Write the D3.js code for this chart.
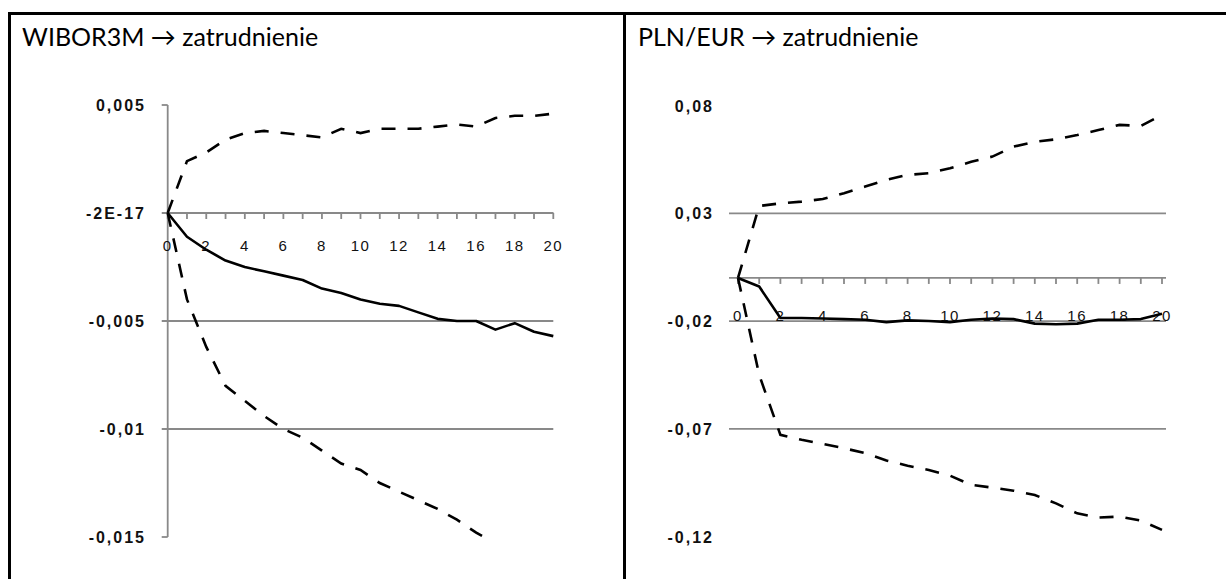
<!DOCTYPE html>
<html>
<head>
<meta charset="utf-8">
<script src="https://cdn.jsdelivr.net/npm/d3@7/dist/d3.min.js"></script>
<style>
  html, body { margin: 0; padding: 0; background: #fff; }
  svg { display: block; }
</style>
</head>
<body>
<svg id="chart" width="1226" height="579"></svg>
<script>
// Impulse responses of employment (zatrudnienie), horizons 0..20
const horizons = [0, 1, 2, 3, 4, 5, 6, 7, 8, 9, 10, 11, 12, 13, 14, 15, 16, 17, 18, 19, 20];

// WIBOR3M shock
const wiborResponse = [0, -0.0011, -0.0017, -0.0022, -0.0025, -0.0027, -0.0029, -0.0031, -0.0035, -0.0037, -0.0040, -0.0042, -0.0043, -0.0046, -0.0049, -0.0050, -0.0050, -0.0054, -0.0051, -0.0055, -0.0057];
const wiborUpper = [0, 0.0024, 0.0028, 0.0034, 0.0037, 0.0038, 0.0037, 0.0036, 0.0035, 0.0039, 0.0037, 0.0039, 0.0039, 0.0039, 0.0040, 0.0041, 0.0040, 0.0044, 0.0045, 0.0045, 0.0046];
const wiborLower = [0, -0.0040, -0.0062, -0.0080, -0.0087, -0.0094, -0.0100, -0.0104, -0.0110, -0.0116, -0.0119, -0.0125, -0.0129, -0.0133, -0.0137, -0.0142, -0.0148, -0.0153, -0.0157, -0.0161, -0.0165];
const wiborTicks = [0.005, 0, -0.005, -0.01, -0.015];
const wiborTickLabels = ["0,005", "-2E-17", "-0,005", "-0,01", "-0,015"];

// PLN/EUR shock
const plnResponse = [0, -0.0040, -0.0186, -0.0186, -0.0188, -0.0191, -0.0194, -0.0205, -0.0197, -0.0200, -0.0205, -0.0194, -0.0188, -0.0191, -0.0212, -0.0215, -0.0212, -0.0194, -0.0194, -0.0191, -0.0166];
const plnUpper = [0, 0.0334, 0.0346, 0.0354, 0.0366, 0.0393, 0.0424, 0.0455, 0.0478, 0.0486, 0.0509, 0.0539, 0.0563, 0.0609, 0.0632, 0.0643, 0.0663, 0.0686, 0.0710, 0.0705, 0.0756];
const plnLower = [0, -0.0450, -0.0728, -0.0751, -0.0770, -0.0790, -0.0813, -0.0847, -0.0871, -0.0891, -0.0917, -0.0960, -0.0973, -0.0987, -0.1007, -0.1046, -0.1092, -0.1112, -0.1107, -0.1126, -0.1169];
const plnTicks = [0.08, 0.03, -0.02, -0.07, -0.12];
const plnTickLabels = ["0,08", "0,03", "-0,02", "-0,07", "-0,12"];

const xTickLabels = ["0", "2", "4", "6", "8", "10", "12", "14", "16", "18", "20"];
const titles = ["WIBOR3M \u2192 zatrudnienie", "PLN/EUR \u2192 zatrudnienie"];

const svg = d3.select("#chart");

// table frame
const frame = svg.append("g").attr("stroke", "#000").attr("stroke-width", 3);
frame.append("line").attr("x1", 8).attr("x2", 1226).attr("y1", 13.5).attr("y2", 13.5);
frame.append("line").attr("x1", 9.5).attr("x2", 9.5).attr("y1", 12).attr("y2", 579);
frame.append("line").attr("x1", 624.5).attr("x2", 624.5).attr("y1", 12).attr("y2", 579);

// cell titles
[[22, titles[0]], [638, titles[1]]].forEach(([x, t]) => {
  svg.append("text")
    .attr("x", x).attr("y", 46)
    .attr("font-family", "Lato, 'Open Sans', sans-serif")
    .attr("font-size", 25)
    .attr("fill", "#000")
    .text(t);
});

const panels = [
  {
    id: "wibor",
    x0: 167.7, x1: 553.3, yTop: 105, yBottom: 537,
    domain: [-0.015, 0.005],
    ticks: wiborTicks, tickLabels: wiborTickLabels,
    gridStart: 162, gridEnd: 553.3,
    showYAxis: true,
    labelRight: 146, xLabelOffset: 34,
    response: wiborResponse, upper: wiborUpper, lower: wiborLower
  },
  {
    id: "pln",
    x0: 738, x1: 1162, yTop: 105.5, yBottom: 536.6,
    domain: [-0.12, 0.08],
    ticks: plnTicks, tickLabels: plnTickLabels,
    gridStart: 729, gridEnd: 1166,
    showYAxis: false,
    labelRight: 714, xLabelOffset: 39,
    response: plnResponse, upper: plnUpper, lower: plnLower
  }
];

const grey = "#898989";

panels.forEach(p => {
  const x = d3.scaleLinear().domain([0, 20]).range([p.x0, p.x1]);
  const y = d3.scaleLinear().domain(p.domain).range([p.yBottom, p.yTop]);
  const g = svg.append("g");

  // horizontal gridlines at interior ticks
  const interior = p.ticks.filter(v => v !== p.domain[0] && v !== p.domain[1]);
  g.selectAll("line.grid").data(interior).join("line")
    .attr("class", "grid")
    .attr("x1", p.gridStart).attr("x2", p.gridEnd)
    .attr("y1", d => y(d)).attr("y2", d => y(d))
    .attr("stroke", grey).attr("stroke-width", 1.8);

  // value axis
  if (p.showYAxis) {
    g.append("line")
      .attr("x1", p.x0).attr("x2", p.x0)
      .attr("y1", p.yTop).attr("y2", p.yBottom)
      .attr("stroke", grey).attr("stroke-width", 1.8);
    g.selectAll("line.ytick").data(p.ticks).join("line")
      .attr("class", "ytick")
      .attr("x1", p.x0 - 6).attr("x2", p.x0)
      .attr("y1", d => y(d)).attr("y2", d => y(d))
      .attr("stroke", grey).attr("stroke-width", 1.8);
  }

  // value labels
  g.selectAll("text.ylab").data(p.ticks).join("text")
    .attr("class", "ylab")
    .attr("x", p.labelRight).attr("y", d => y(d) + 2)
    .attr("text-anchor", "end")
    .attr("dominant-baseline", "middle")
    .attr("font-family", "'Liberation Sans', Arial, sans-serif")
    .attr("font-size", 16)
    .attr("font-weight", "bold")
    .attr("letter-spacing", 2)
    .attr("fill", "#111")
    .text((d, i) => p.tickLabels[i]);

  // category axis at zero
  const y0 = y(0);
  g.append("line")
    .attr("x1", p.showYAxis ? p.x0 : p.gridStart).attr("x2", p.gridEnd)
    .attr("y1", y0).attr("y2", y0)
    .attr("stroke", grey).attr("stroke-width", 1.8);
  g.selectAll("line.xtick").data(horizons).join("line")
    .attr("class", "xtick")
    .attr("x1", d => x(d)).attr("x2", d => x(d))
    .attr("y1", y0).attr("y2", y0 + 6)
    .attr("stroke", grey).attr("stroke-width", 1.8);
  g.selectAll("text.xlab").data(xTickLabels).join("text")
    .attr("class", "xlab")
    .attr("x", d => x(+d)).attr("y", y0 + p.xLabelOffset)
    .attr("text-anchor", "middle")
    .attr("dominant-baseline", "middle")
    .attr("font-family", "'Liberation Sans', Arial, sans-serif")
    .attr("font-size", 15)
    .attr("letter-spacing", 1.5)
    .attr("fill", "#111")
    .text(d => d);

  // series, clipped to the plot area
  const clipId = "clip-" + p.id;
  svg.append("clipPath").attr("id", clipId)
    .append("rect")
    .attr("x", p.x0 - 10).attr("y", p.yTop - 10)
    .attr("width", p.x1 - p.x0 + 20).attr("height", p.yBottom - p.yTop + 11);

  const line = d3.line().x((d, i) => x(horizons[i])).y(d => y(d));
  const series = g.append("g").attr("clip-path", `url(#${clipId})`);

  [p.upper, p.lower].forEach(band => {
    series.append("path")
      .attr("d", line(band))
      .attr("fill", "none")
      .attr("stroke", "#000")
      .attr("stroke-width", 2.6)
      .attr("stroke-dasharray", "14,12");
  });
  series.append("path")
    .attr("d", line(p.response))
    .attr("fill", "none")
    .attr("stroke", "#000")
    .attr("stroke-width", 2.6)
    .attr("stroke-linejoin", "round");
});
</script>
</body>
</html>
